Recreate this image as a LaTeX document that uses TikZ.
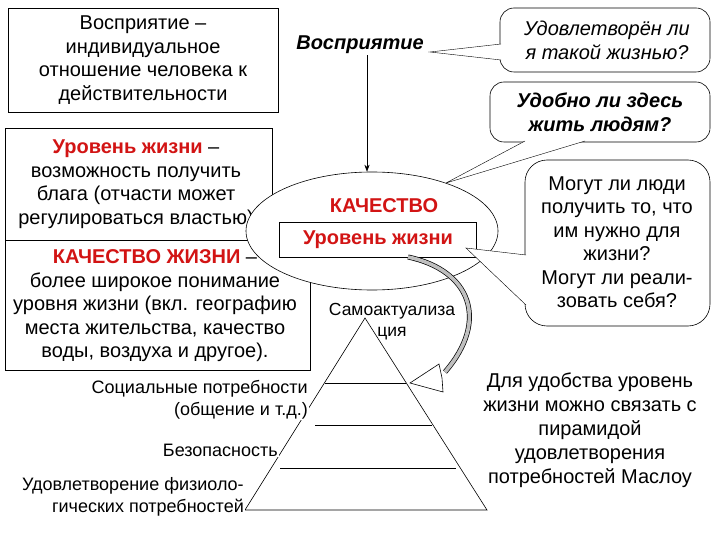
\documentclass[tikz,border=0pt]{standalone}
\usepackage{fontspec}
\setmainfont{Liberation Sans}
\usetikzlibrary{shapes.geometric,arrows.meta}
\definecolor{rd}{RGB}{210,20,20}
\begin{document}
\begin{tikzpicture}[x=1pt,y=-1pt,
  txt/.style={font=\fontsize{20}{23.5}\selectfont,align=center,inner sep=1pt},
  ptxt/.style={font=\fontsize{18}{22}\selectfont,align=right,inner sep=1pt,fill=white,anchor=east},
  box/.style={draw,fill=white,line width=0.6pt},
  call/.style={draw,fill=white,rounded corners=14pt,line width=0.6pt}]
\useasboundingbox (0,0) rectangle (720,540);
% boxes
\draw[box] (8,8) rectangle (278,112);
\node[txt] (b1) at (143,60) {Восприятие –\\индивидуальное\\отношение человека к\\действительности};
\draw[box] (5,128) rectangle (272,240);
\node[txt] (b2) at (136,184) {\textcolor{rd}{\textbf{Уровень жизни}} –\\возможность получить\\блага (отчасти может\\регулироваться властью)};
\draw[box] (5,240) rectangle (310,370);
\node[txt] (b3) at (155,306) {\textcolor{rd}{\textbf{КАЧЕСТВО ЖИЗНИ}} –\\более широкое понимание\\уровня жизни (вкл. географию\\места жительства, качество\\воды, воздуха и другое).};
% perception
\node[txt,font=\fontsize{20}{23}\selectfont\bfseries\itshape] (vos) at (360,45) {Восприятие};
% pyramid
\coordinate (apex) at (365,318);
\coordinate (bl) at (245,510);
\coordinate (br0) at (487,510);
\draw[line width=0.6pt] (apex) -- (bl) -- (br0) -- cycle;
\draw[line width=0.6pt] (325,383) -- (406,383);
\draw[line width=0.6pt] (315,425) -- (432,425);
\draw[line width=0.6pt] (280,468) -- (456,468);
% ellipse
\node[ellipse,draw,fill=white,minimum width=252,minimum height=118,line width=0.6pt] (ell) at (372,231) {};
\draw[-{Stealth[length=7pt]},line width=0.6pt] (vos.south -| 367,0) -- (ell.north -| 367,0);
\node[txt,font=\fontsize{20}{23}\selectfont\bfseries,text=rd] (kach) at (384,206) {КАЧЕСТВО};
\node[draw,minimum width=197,minimum height=35,line width=0.6pt,txt,font=\fontsize{20}{23}\selectfont\bfseries,text=rd] (uz) at (378,240) {Уровень жизни};
% pyramid labels
\node[txt,font=\fontsize{17.5}{21}\selectfont] (sa) at (392,322) {Самоактуализа\\ция};
\node[ptxt] (soc) at (309,400) {Социальные потребности\\(общение и т.д.)};
\node[ptxt] (bez) at (279,450) {Безопасность};
\node[ptxt] (fiz) at (245,497) {Удовлетворение физиоло-\\гических потребностей};
% curved arrow
\draw[line width=5pt,draw=black] (408,257) .. controls (470,270) and (490,320) .. (445,372);
\draw[line width=3.6pt,draw=gray!50] (408,257) .. controls (470,270) and (490,320) .. (445,372);
\coordinate (ah) at (410,383);
\draw[fill=white,line width=0.6pt] (439,364) -- (ah) -- (443,392) -- (442,378) -- cycle;
% callouts
\draw[call] (500,8) rectangle (710,72);
\node[txt,font=\fontsize{20}{24}\selectfont\itshape] (c1) at (607,40) {Удовлетворён ли\\я такой жизнью?};
\coordinate (t1) at (430,52);
\fill[white] (501,44) -- (t1) -- (501,60) -- cycle;
\draw (501,44) -- (t1) -- (501,60);
\draw[call] (490,82) rectangle (710,142);
\node[txt,font=\fontsize{20}{24}\selectfont\bfseries\itshape] (c2) at (600,112) {Удобно ли здесь\\жить людям?};
\coordinate (t2) at (446,183);
\fill[white] (525,141) -- (t2) -- (585,141) -- cycle;
\draw (525,141) -- (t2) -- (585,141);
\draw[call,rounded corners=22pt] (525,160) rectangle (710,326);
\node[txt,font=\fontsize{20}{23.5}\selectfont] (c3) at (617,242) {Могут ли люди\\получить то, что\\им нужно для\\жизни?\\Могут ли реали-\\зовать себя?};
\coordinate (t3) at (466,248);
\fill[white] (526,255) -- (t3) -- (526,305) -- cycle;
\draw (526,255) -- (t3) -- (526,305);
% bottom right
\node[txt,font=\fontsize{20}{24}\selectfont] (br) at (590,430) {Для удобства уровень\\жизни можно связать с\\пирамидой\\удовлетворения\\потребностей  Маслоу};
\end{tikzpicture}
\end{document}
